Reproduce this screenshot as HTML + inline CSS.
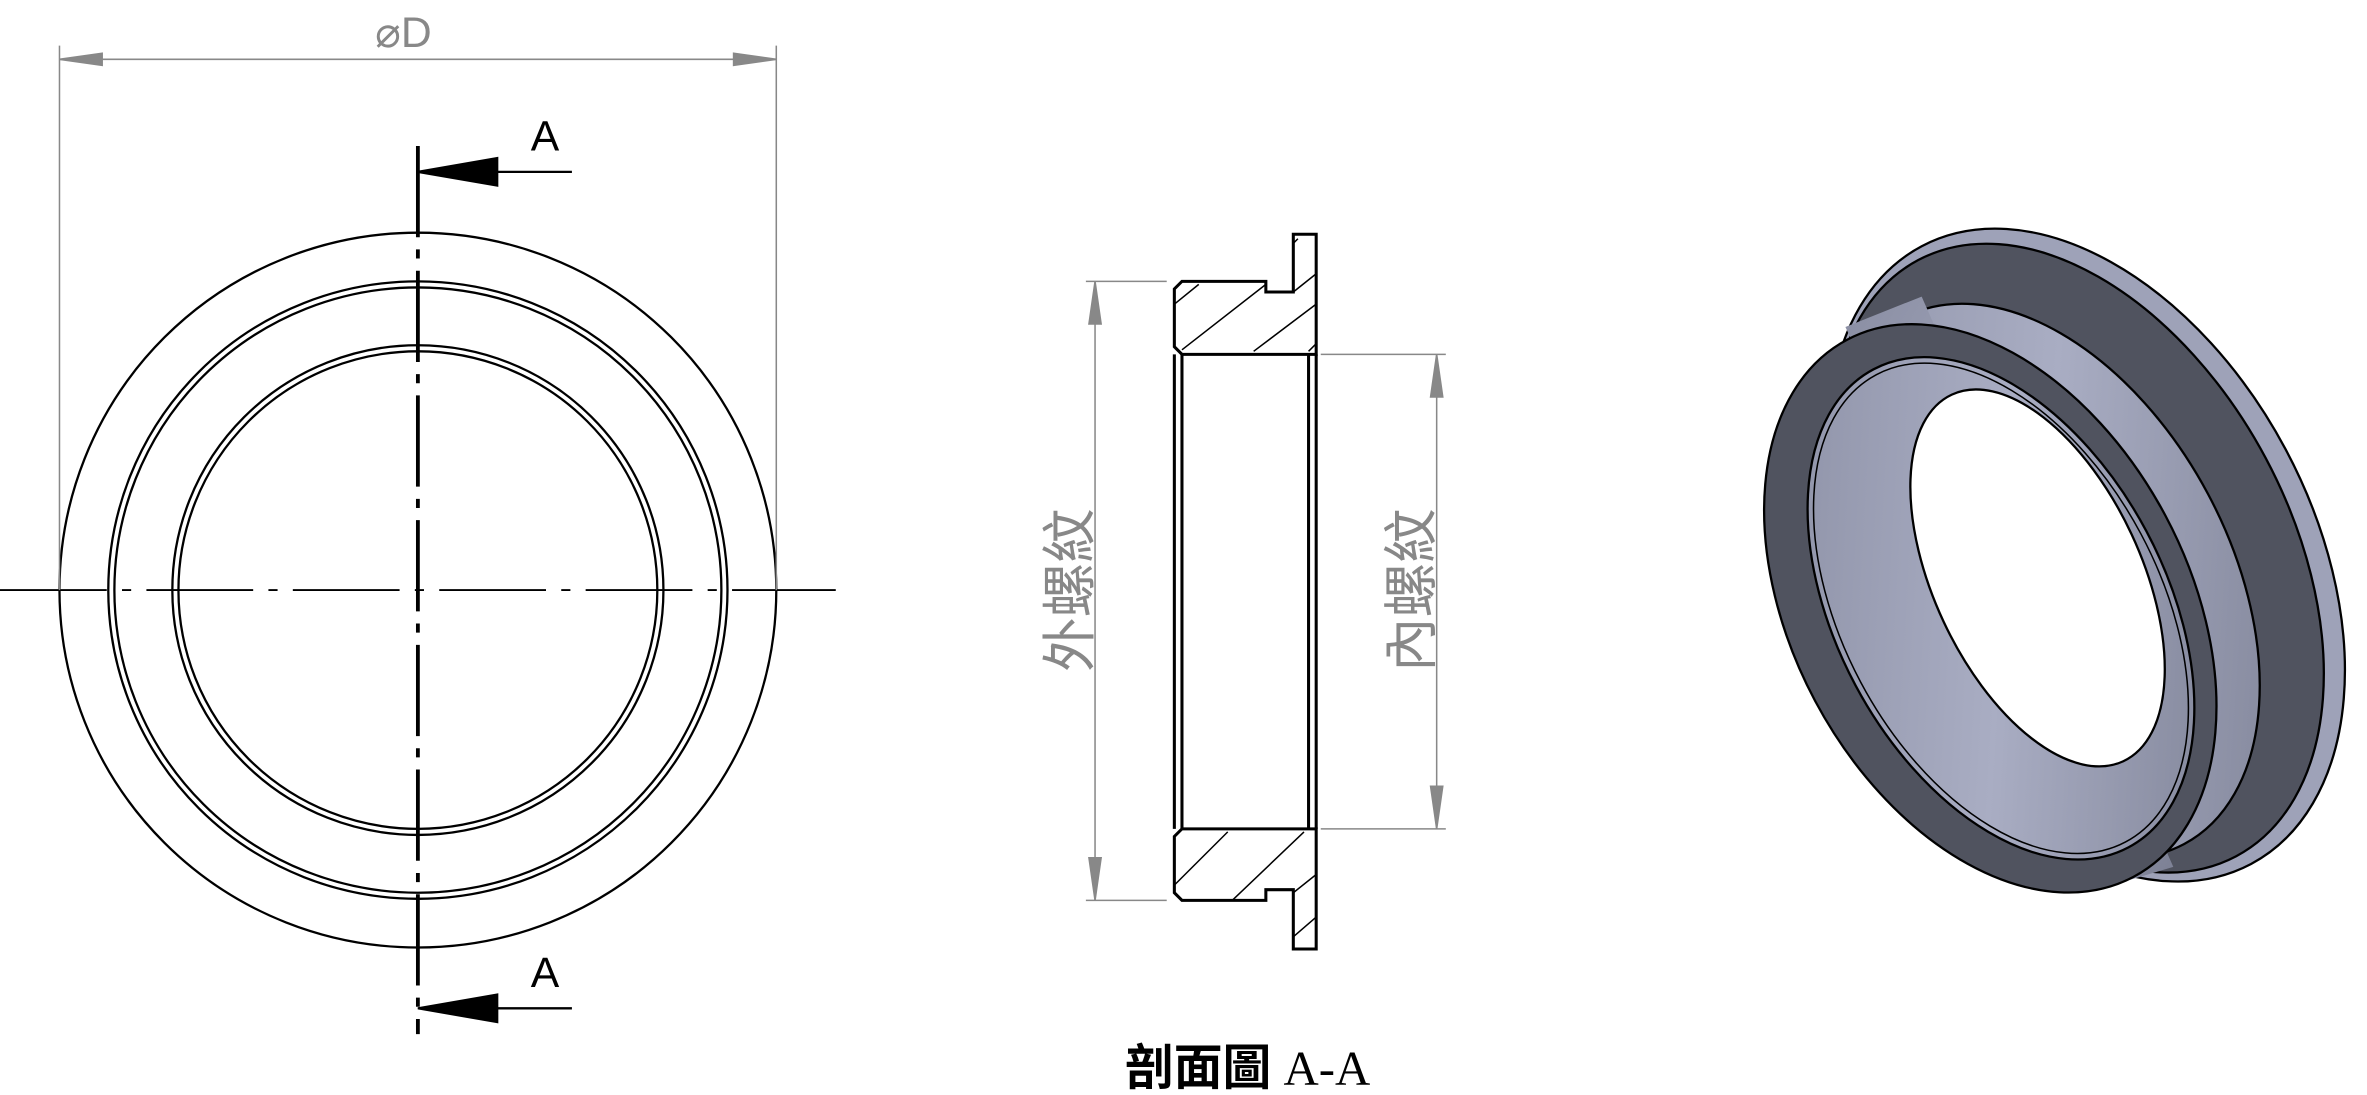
<!DOCTYPE html>
<html><head><meta charset="utf-8"><style>
html,body{margin:0;padding:0;background:#fff}
svg{display:block}
</style></head><body>
<svg width="2367" height="1095" viewBox="0 0 1552 720" preserveAspectRatio="none" xmlns="http://www.w3.org/2000/svg">
<defs>
<linearGradient id="lg" x1="0" y1="0" x2="1" y2="1">
<stop offset="0" stop-color="#8a8ea3"/><stop offset="0.5" stop-color="#a9adc3"/><stop offset="1" stop-color="#7c8094"/>
</linearGradient>
</defs>
<!-- Left view -->
<g fill="none" stroke="#000" stroke-width="1.5">
<circle cx="274" cy="388" r="235"/>
<circle cx="274" cy="388" r="203"/>
<circle cx="274" cy="388" r="199"/>
<circle cx="274" cy="388" r="161"/>
<circle cx="274" cy="388" r="157"/>
</g>
<g stroke="#000" stroke-width="1.2">
<line x1="0" y1="388" x2="548" y2="388" stroke-dasharray="70,10,6,10"/>
<line x1="274" y1="96" x2="274" y2="680" stroke-width="2.5" stroke-dasharray="60,8,6,8"/>
</g>
<g stroke="#888" stroke-width="1" fill="#888">
<line x1="39" y1="30" x2="39" y2="388"/>
<line x1="509" y1="30" x2="509" y2="388"/>
<line x1="39" y1="39" x2="509" y2="39"/>
<polygon points="39,39 67,35 67,43"/>
<polygon points="509,39 481,35 481,43"/>
</g>
<text x="246" y="31" font-family="Liberation Sans, sans-serif" font-size="28" fill="#888">⌀D</text>
<g stroke="#000" stroke-width="1.5" fill="#000">
<line x1="300" y1="113" x2="375" y2="113"/>
<polygon points="274,113 326,104 326,122"/>
<line x1="300" y1="663" x2="375" y2="663"/>
<polygon points="274,663 326,654 326,672"/>
</g>
<text x="348" y="99" font-family="Liberation Sans, sans-serif" font-size="28">A</text>
<text x="348" y="649" font-family="Liberation Sans, sans-serif" font-size="28">A</text>

<!-- Section view -->
<g fill="none" stroke="#000" stroke-width="2">
<path d="M848,154 H863 V233 H775 L770,228 V190 L775,185 H830 V192 H848 Z"/>
<path d="M848,624 H863 V545 H775 L770,550 V587 L775,592 H830 V585 H848 Z"/>
<line x1="770" y1="233" x2="770" y2="545"/>
<line x1="775" y1="233" x2="775" y2="545"/>
<line x1="858" y1="233" x2="858" y2="545"/>
<line x1="863" y1="233" x2="863" y2="545"/>
</g>
<g stroke="#000" stroke-width="1">
<line x1="770" y1="200" x2="786" y2="187"/>
<line x1="775" y1="230" x2="830" y2="187"/>
<line x1="822" y1="231" x2="863" y2="200"/>
<line x1="848" y1="192" x2="863" y2="180"/>
<line x1="848" y1="160" x2="851" y2="157"/>
<line x1="858" y1="231" x2="863" y2="226"/>
<line x1="770" y1="582" x2="805" y2="547"/>
<line x1="808" y1="592" x2="855" y2="547"/>
<line x1="848" y1="587" x2="863" y2="575"/>
<line x1="848" y1="616" x2="863" y2="603"/>
</g>
<g stroke="#888" stroke-width="1" fill="#888">
<line x1="712" y1="185" x2="765" y2="185"/>
<line x1="712" y1="592" x2="765" y2="592"/>
<line x1="718" y1="185" x2="718" y2="592"/>
<polygon points="718,185 714,213 722,213"/>
<polygon points="718,592 714,564 722,564"/>
<line x1="866" y1="233" x2="948" y2="233"/>
<line x1="866" y1="545" x2="948" y2="545"/>
<line x1="942" y1="233" x2="942" y2="545"/>
<polygon points="942,233 938,261 946,261"/>
<polygon points="942,545 938,517 946,517"/>
</g>
<text transform="translate(714,388) rotate(-90)" text-anchor="middle" font-family="Liberation Sans, 'Noto Sans CJK TC', sans-serif" font-size="36" fill="#888">外螺紋</text>
<text transform="translate(938,388) rotate(-90)" text-anchor="middle" font-family="Liberation Sans, 'Noto Sans CJK TC', sans-serif" font-size="36" fill="#888">內螺紋</text>
<text x="818" y="713" text-anchor="middle" font-size="32" fill="#000"><tspan font-family="'Noto Sans CJK TC', sans-serif" font-weight="bold">剖面圖</tspan><tspan font-family="Liberation Serif, serif"> A-A</tspan></text>

<!-- 3D view -->
<g stroke="#000" stroke-width="1.5">
<ellipse cx="1368" cy="365" rx="148" ry="230" transform="rotate(-28 1368 365)" fill="#9ea2b8"/>
<ellipse cx="1362" cy="367" rx="140" ry="222" transform="rotate(-28 1362 367)" fill="#50535f"/>
<ellipse cx="1340" cy="382" rx="122" ry="196" transform="rotate(-28 1340 382)" fill="url(#lg)"/>
<path d="M1210,215 L1260,195 L1425,570 L1385,582 Z" fill="url(#lg)" stroke="none"/>
<ellipse cx="1305" cy="400" rx="130" ry="200" transform="rotate(-28 1305 400)" fill="#50535f"/>
<ellipse cx="1312" cy="400" rx="108" ry="178" transform="rotate(-28 1312 400)" fill="url(#lg)"/>
<ellipse cx="1312" cy="400" rx="104" ry="174" transform="rotate(-28 1312 400)" fill="none" stroke-width="1"/>
<ellipse cx="1336" cy="380" rx="68" ry="133" transform="rotate(-25 1336 380)" fill="#fff"/>
</g>
</svg>
</body></html>
